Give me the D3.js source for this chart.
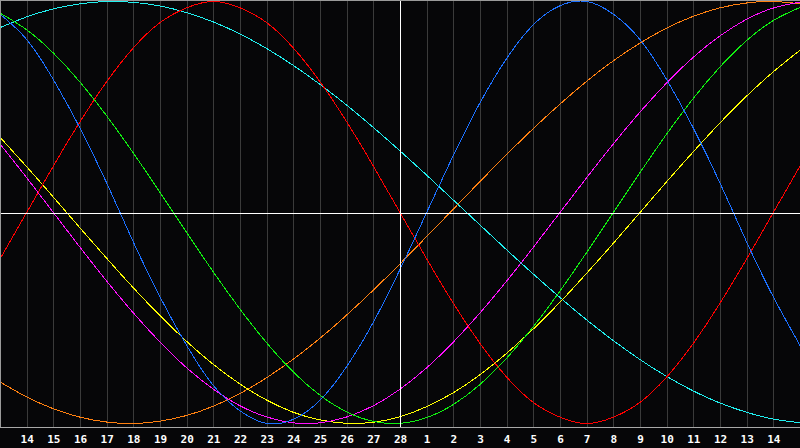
<!DOCTYPE html>
<html><head><meta charset="utf-8">
<script src="https://cdn.jsdelivr.net/npm/d3@7"></script>
<style>html,body{margin:0;padding:0;background:#060608;overflow:hidden}svg{display:block}</style>
</head><body>
<svg id="c" width="800" height="448"></svg>
<script>
// Day labels under the gridlines (index 1..29); x-domain runs 0..30 (Feb 13 .. Mar 15)
const dayLabels = ["14","15","16","17","18","19","20","21","22","23","24","25","26","27","28",
  "1","2","3","4","5","6","7","8","9","10","11","12","13","14"];
const dayIndex = d3.range(0, 31);
// Series values at each day index 0..30 (range -1..1)
const physical = [0.94,0.82,0.63,0.40,0.14,-0.14,-0.40,-0.63,-0.82,-0.94,-1.00,-0.98,-0.89,-0.73,-0.52,-0.27,0.00,0.27,0.52,0.73,0.89,0.98,1.00,0.94,0.82,0.63,0.40,0.14,-0.14,-0.40,-0.63];
const emotional = [-0.22,0.00,0.22,0.43,0.62,0.78,0.90,0.97,1.00,0.97,0.90,0.78,0.62,0.43,0.22,0.00,-0.22,-0.43,-0.62,-0.78,-0.90,-0.97,-1.00,-0.97,-0.90,-0.78,-0.62,-0.43,-0.22,0.00,0.22];
const intellectual = [0.945,0.866,0.756,0.618,0.458,0.282,0.095,-0.095,-0.282,-0.458,-0.618,-0.756,-0.866,-0.945,-0.990,-0.999,-0.972,-0.910,-0.815,-0.690,-0.541,-0.372,-0.189,0.000,0.189,0.372,0.541,0.690,0.815,0.910,0.972];
const intuitive = [0.325,0.165,0.000,-0.165,-0.325,-0.476,-0.614,-0.736,-0.837,-0.916,-0.969,-0.997,-0.997,-0.969,-0.916,-0.837,-0.736,-0.614,-0.476,-0.325,-0.165,0.000,0.165,0.325,0.476,0.614,0.736,0.837,0.916,0.969,0.997];
const aesthetic = [0.357,0.217,0.073,-0.073,-0.217,-0.357,-0.489,-0.611,-0.720,-0.813,-0.889,-0.947,-0.983,-0.999,-0.994,-0.968,-0.920,-0.854,-0.769,-0.667,-0.552,-0.425,-0.288,-0.146,0.000,0.146,0.288,0.425,0.552,0.667,0.769];
const awareness = [-0.803,-0.874,-0.930,-0.970,-0.993,-1.000,-0.989,-0.962,-0.918,-0.858,-0.783,-0.695,-0.596,-0.486,-0.368,-0.243,-0.114,0.016,0.147,0.275,0.398,0.514,0.622,0.719,0.803,0.874,0.930,0.970,0.993,1.000,0.989];
const spiritual = [0.876,0.927,0.965,0.989,1.000,0.996,0.979,0.947,0.903,0.846,0.777,0.697,0.607,0.509,0.403,0.292,0.177,0.059,-0.059,-0.177,-0.292,-0.403,-0.509,-0.607,-0.697,-0.777,-0.846,-0.903,-0.947,-0.979,-0.996];

const seriesList = [
  {name:"spiritual", values: spiritual, color:"#20f0f0"},
  {name:"awareness", values: awareness, color:"#ff8010"},
  {name:"aesthetic", values: aesthetic, color:"#ffff00"},
  {name:"intuitive", values: intuitive, color:"#ff10ff"},
  {name:"intellectual", values: intellectual, color:"#10f010"},
  {name:"emotional", values: emotional, color:"#ff0000"},
  {name:"physical", values: physical, color:"#1c70ff"}
];

const svg = d3.select("#c");
const W = 800, plotBottom = 427.5;
const x = d3.scaleLinear().domain([0, 30]).range([0, W]);
const y = d3.scaleLinear().domain([-1, 1]).range([423.5, 1.5]);

// background
svg.append("rect").attr("width", W).attr("height", 448).attr("fill", "#060608");

// gridlines
const gridIdx = d3.range(1, 30);
svg.append("g").selectAll("line").data(gridIdx).join("line")
  .attr("x1", d => Math.round(x(d)) + 0.5).attr("x2", d => Math.round(x(d)) + 0.5)
  .attr("y1", 0).attr("y2", plotBottom)
  .attr("stroke", "#3a3a3a").attr("stroke-width", 1).attr("shape-rendering", "crispEdges");

// curves
const line = d3.line().x((v, i) => x(dayIndex[i])).y(v => y(v)).curve(d3.curveNatural);
svg.append("g").selectAll("path").data(seriesList).join("path")
  .attr("d", s => line(s.values))
  .attr("fill", "none").attr("stroke", s => s.color).attr("stroke-width", 1)
  .attr("shape-rendering", "crispEdges");

// center cross lines
svg.append("line").attr("x1", 0).attr("x2", W).attr("y1", 213.5).attr("y2", 213.5)
  .attr("stroke", "#ffffff").attr("stroke-width", 1).attr("shape-rendering", "crispEdges");
svg.append("line").attr("x1", x(15) + 0.5).attr("x2", x(15) + 0.5).attr("y1", 0).attr("y2", plotBottom)
  .attr("stroke", "#ffffff").attr("stroke-width", 1).attr("shape-rendering", "crispEdges");

// frame
svg.append("path").attr("d", `M0.5,${plotBottom} V0.5 H${W}`).attr("fill", "none")
  .attr("stroke", "#9a9a9a").attr("stroke-width", 1).attr("shape-rendering", "crispEdges");

// bottom axis
const axis = d3.axisBottom(x).tickValues(gridIdx).tickSize(0).tickPadding(0)
  .tickFormat(d => dayLabels[d - 1]);
const ag = svg.append("g").attr("transform", `translate(0,${plotBottom})`).call(axis);
ag.select(".domain").attr("stroke", "#a8a8a8").attr("d", `M0,0H${W}`).attr("shape-rendering", "crispEdges");
ag.selectAll("text").attr("fill", "#ffffff").attr("dy", null).attr("y", 15.5)
  .attr("font-family", "DejaVu Sans Mono").attr("font-weight", "bold").attr("font-size", 11)
  .attr("text-anchor", "middle");
</script>
</body></html>
